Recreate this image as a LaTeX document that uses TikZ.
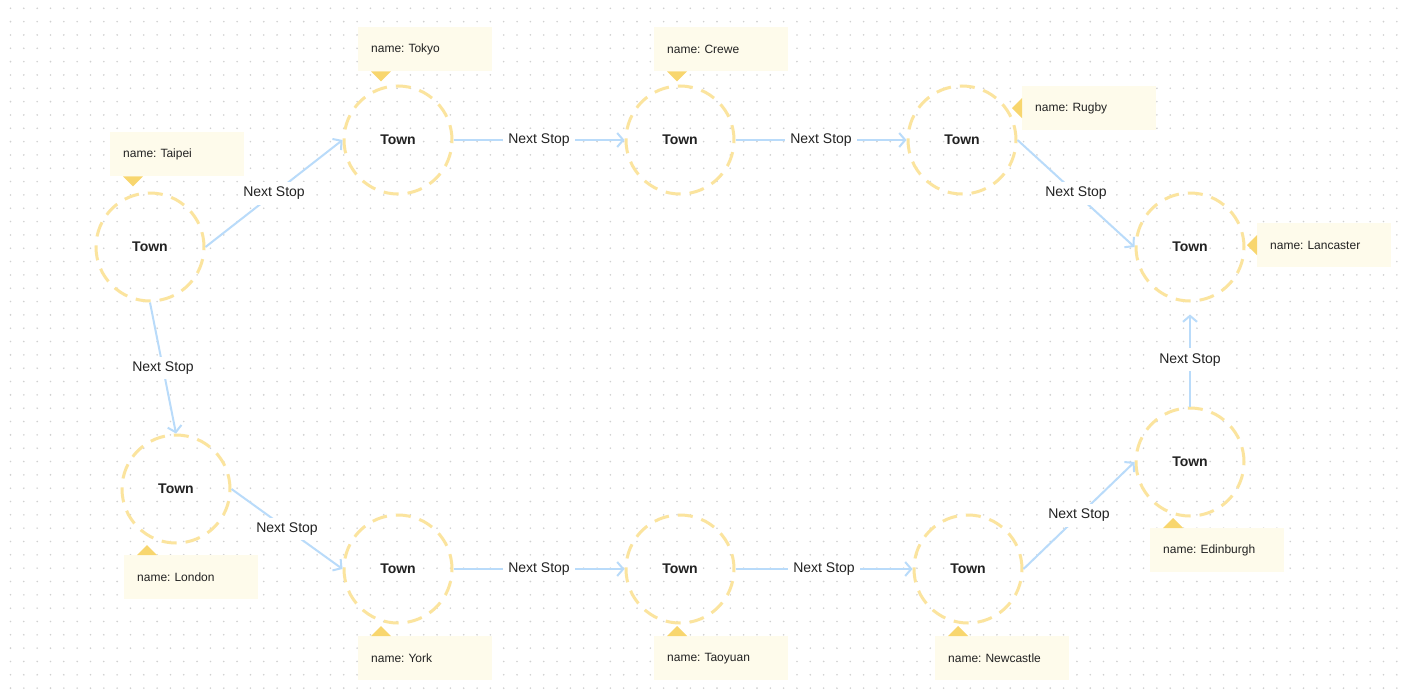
\documentclass[tikz,border=0pt]{standalone}
\usepackage{fontspec}
\setmainfont{Liberation Sans}
\frenchspacing
\usetikzlibrary{arrows.meta}
\definecolor{ringcol}{HTML}{FBE49E}
\definecolor{notefill}{HTML}{FEFBEB}
\definecolor{pincol}{HTML}{F8D66E}
\definecolor{linkcol}{HTML}{B9DBFA}
\definecolor{inkcol}{HTML}{222222}
\definecolor{gridcol}{HTML}{D0D0D0}
\begin{document}
\begin{tikzpicture}[x=1pt, y=-1pt,
  town/.style={circle, draw=ringcol, line width=3pt, dash pattern=on 15pt off 9pt, minimum size=108pt, inner sep=0pt, font=\fontsize{14}{16}\selectfont\bfseries, text=inkcol},
  note/.style={anchor=north west, fill=notefill, text width=108pt, align=left, inner sep=13pt, minimum height=44pt, font=\fontsize{12}{14}\selectfont, text=inkcol},
  link/.style={draw=linkcol, line width=2pt, -{Straight Barb[length=6pt,width=14pt]}},
  lbl/.style={fill=white, inner sep=5pt, font=\fontsize{14}{16}\selectfont, text=inkcol}]
\useasboundingbox (0,0) rectangle (1406,696);
\fill[white] (0,0) rectangle (1406,696);
\foreach \i in {0,...,105}
  \foreach \j in {0,...,51}
    \fill[gridcol] (10.5+13.33*\i, 8.3+13.33*\j) circle (0.9);

\node[town] (townTaipei) at (150,247) {Town};
\node[town] (townTokyo) at (398,140) {Town};
\node[town] (townCrewe) at (680,140) {Town};
\node[town] (townRugby) at (962,140) {Town};
\node[town] (townLancaster) at (1190,247) {Town};
\node[town] (townEdinburgh) at (1190,462) {Town};
\node[town] (townLondon) at (176,489) {Town};
\node[town] (townYork) at (398,569) {Town};
\node[town] (townTaoyuan) at (680,569) {Town};
\node[town] (townNewcastle) at (968,569) {Town};

\node[note] (noteTaipei) at (110,132) {name: Taipei};
\node[note] (noteTokyo) at (358,27) {name: Tokyo};
\node[note] (noteCrewe) at (654,27) {name: Crewe};
\node[note] (noteRugby) at (1022,86) {name: Rugby};
\node[note] (noteLancaster) at (1257,223) {name: Lancaster};
\node[note] (noteEdinburgh) at (1150,528) {name: Edinburgh};
\node[note] (noteLondon) at (124,555) {name: London};
\node[note] (noteYork) at (358,636) {name: York};
\node[note] (noteTaoyuan) at (654,636) {name: Taoyuan};
\node[note] (noteNewcastle) at (935,636) {name: Newcastle};

\foreach \n in {Taipei,Tokyo,Crewe}
  \fill[pincol] ([xshift=13pt]note\n.south west) -- ++(20,0) -- ++(-10,10) -- cycle;
\foreach \n in {Edinburgh,London,York,Taoyuan,Newcastle}
  \fill[pincol] ([xshift=13pt]note\n.north west) -- ++(20,0) -- ++(-10,-10) -- cycle;
\foreach \n in {Rugby,Lancaster}
  \fill[pincol] ([yshift=10pt]note\n.west) -- ++(0,20) -- ++(-10,-10) -- cycle;

\draw[link] (townTaipei.east) -- node[lbl] {Next Stop} (townTokyo.west);
\draw[link] (townTokyo.east) -- node[lbl] {Next Stop} (townCrewe.west);
\draw[link] (townCrewe.east) -- node[lbl] {Next Stop} (townRugby.west);
\draw[link] (townRugby.east) -- node[lbl] {Next Stop} (townLancaster.west);
\draw[link] (townTaipei.south) -- node[lbl] {Next Stop} (townLondon.north);
\draw[link] (townLondon.east) -- node[lbl] {Next Stop} (townYork.west);
\draw[link] (townYork.east) -- node[lbl] {Next Stop} (townTaoyuan.west);
\draw[link] (townTaoyuan.east) -- node[lbl] {Next Stop} (townNewcastle.west);
\draw[link] (townNewcastle.east) -- node[lbl] {Next Stop} (townEdinburgh.west);
\draw[link, shorten >=12pt] (townEdinburgh.north) -- node[lbl, pos=0.45] {Next Stop} (townLancaster.south);
\end{tikzpicture}
\end{document}
